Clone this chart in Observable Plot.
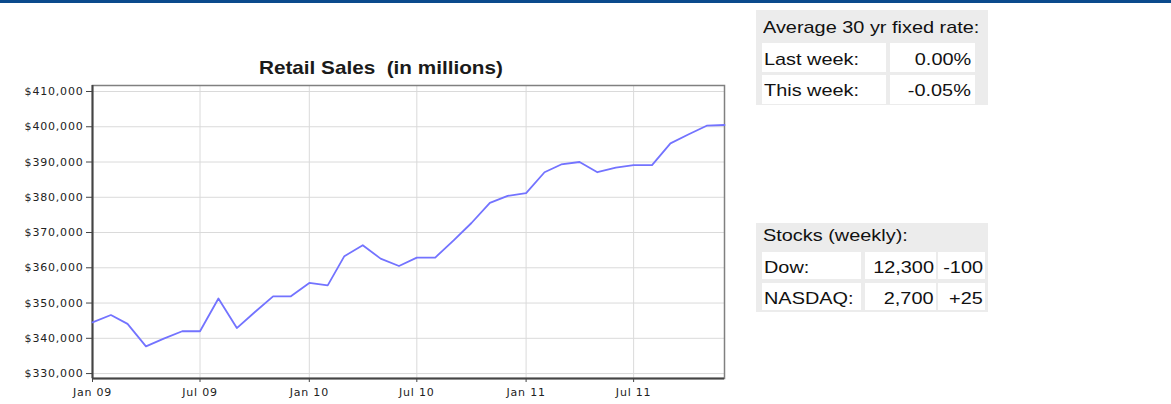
<!DOCTYPE html>
<html><head><meta charset="utf-8">
<script src="https://cdn.jsdelivr.net/npm/d3@7"></script>
<script src="https://cdn.jsdelivr.net/npm/@observablehq/plot@0.6"></script>
<style>
body{margin:0;background:#fff;width:1171px;height:404px;overflow:hidden;position:relative;font-family:"Liberation Sans",Arial,sans-serif;}
#bar{position:absolute;left:0;top:0;width:1171px;height:3px;background:#0b4a8c;}
#chart{position:absolute;left:0;top:0;}
#chart svg text{letter-spacing:0.8px;font-size:11px;font-family:"DejaVu Sans";fill:#222;}
#title{position:absolute;left:0;width:762px;text-align:center;}
#title span{display:inline-block;font-weight:bold;font-size:19px;line-height:19px;color:#1a1a1a;transform:scaleX(1.09);white-space:pre;}
.box{position:absolute;background:#ececec;}
.cell{position:absolute;background:#fff;}
.txt{position:absolute;font-size:17px;line-height:17px;color:#111;white-space:nowrap;}
.txt.l{transform-origin:left center;transform:scaleX(1.17);}
.txt.r{transform-origin:right center;transform:scaleX(1.17);text-align:right;}
</style></head>
<body>
<div id="bar"></div>
<div id="chart"></div>
<div id="title"><span></span></div>
<div id="tables"></div>
<script>
// ---- data ----
const chartTitle = "Retail Sales  (in millions)";
const months = ["2009-01","2009-02","2009-03","2009-04","2009-05","2009-06","2009-07","2009-08","2009-09","2009-10","2009-11","2009-12",
                "2010-01","2010-02","2010-03","2010-04","2010-05","2010-06","2010-07","2010-08","2010-09","2010-10","2010-11","2010-12",
                "2011-01","2011-02","2011-03","2011-04","2011-05","2011-06","2011-07","2011-08","2011-09","2011-10","2011-11","2011-12"];
const sales = [344500,346600,344100,337700,339900,342000,342000,351300,342900,347400,351900,351900,
               355700,355000,363300,366400,362600,360500,362900,362900,367800,372700,378400,380400,
               381200,387100,389300,390000,387100,388400,389100,389100,395300,397800,400300,400500];
const yTicks = [330000,340000,350000,360000,370000,380000,390000,400000,410000];
const xTickMonths = ["2009-01","2009-07","2010-01","2010-07","2011-01","2011-07"];
const xTickLabels = ["Jan 09","Jul 09","Jan 10","Jul 10","Jan 11","Jul 11"];
const yDomain = [328600, 411700];

const rateTitle = "Average 30 yr fixed rate:";
const rateLabels = ["Last week:","This week:"];
const rateValues = ["0.00%","-0.05%"];
const stockTitle = "Stocks (weekly):";
const stockLabels = ["Dow:","NASDAQ:"];
const stockValues = ["12,300","2,700"];
const stockChanges = ["-100","+25"];

// ---- chart ----
const parse = d3.utcParse("%Y-%m");
const data = months.map((m,i)=>({date:parse(m), value:sales[i]}));
const xTicks = xTickMonths.map(parse);
const labelMap = new Map(xTicks.map((d,i)=>[+d, xTickLabels[i]]));
const xDomain = [data[0].date, data[data.length-1].date];

const chart = Plot.plot({
  width: 760, height: 404,
  marginLeft: 92, marginRight: 36, marginTop: 85, marginBottom: 26,
  style: {fontFamily:"DejaVu Sans", fontSize:"11px", color:"#222", background:"transparent", overflow:"visible"},
  x: {type:"utc", domain:xDomain},
  y: {domain:yDomain},
  marks: [
    Plot.gridY(yTicks, {stroke:"#dadada", strokeOpacity:1}),
    Plot.gridX(xTicks, {stroke:"#dadada", strokeOpacity:1}),
    Plot.frame({stroke:"#808080", strokeWidth:1.5}),
    Plot.ruleX([xDomain[0]], {stroke:"#444", strokeWidth:2}),
    Plot.ruleY([yDomain[0]], {stroke:"#444", strokeWidth:2}),
    Plot.lineY(data, {x:"date", y:"value", stroke:"#7373ff", strokeWidth:1.8}),
    Plot.axisY(yTicks, {tickSize:6, tickPadding:3, fontSize:11, stroke:"#444", tickFormat:d=>"$"+d3.format(",")(d), label:null}),
    Plot.axisX(xTicks, {tickSize:4, tickPadding:6, fontSize:11, stroke:"#444", tickFormat:d=>labelMap.get(+d), label:null})
  ]
});
document.getElementById("chart").appendChild(chart);

// title: baseline at y=74
const t = document.getElementById("title");
t.style.top = (74 - 0.8465*19) + "px";
t.querySelector("span").textContent = chartTitle;

// ---- tables ----
const tables = document.getElementById("tables");
function el(cls, css, text){
  const d = document.createElement("div");
  d.className = cls;
  Object.assign(d.style, css);
  if (text!=null) d.textContent = text;
  tables.appendChild(d);
  return d;
}
const asc = 0.8465*17;
function txtL(text, x, base){ el("txt l", {left:x+"px", top:(base-asc)+"px"}, text); }
function txtR(text, xr, base){ el("txt r", {right:(1171-xr)+"px", top:(base-asc)+"px"}, text); }

// table 1
el("box", {left:"756px", top:"10px", width:"232px", height:"95px"});
txtL(rateTitle, 763, 33.3);
const r1 = [{y:42.7,h:29,b:65},{y:75,h:28.5,b:96.7}];
rateLabels.forEach((lab,i)=>{
  const r = r1[i];
  el("cell", {left:"761.7px", top:r.y+"px", width:"124px", height:r.h+"px"});
  el("cell", {left:"890px", top:r.y+"px", width:"85px", height:r.h+"px"});
  txtL(lab, 763.5, r.b);
  txtR(rateValues[i], 971, r.b);
});

// table 2
el("box", {left:"756px", top:"223px", width:"232px", height:"89px"});
txtL(stockTitle, 763, 241.7);
const r2 = [{y:252.3,h:27,b:273.3},{y:283.3,h:27,b:304.3}];
stockLabels.forEach((lab,i)=>{
  const r = r2[i];
  el("cell", {left:"761.7px", top:r.y+"px", width:"99px", height:r.h+"px"});
  el("cell", {left:"865px", top:r.y+"px", width:"71px", height:r.h+"px"});
  el("cell", {left:"938.3px", top:r.y+"px", width:"46.7px", height:r.h+"px"});
  txtL(lab, 763.5, r.b);
  txtR(stockValues[i], 934, r.b);
  txtR(stockChanges[i], 982.7, r.b);
});
</script>
</body></html>
